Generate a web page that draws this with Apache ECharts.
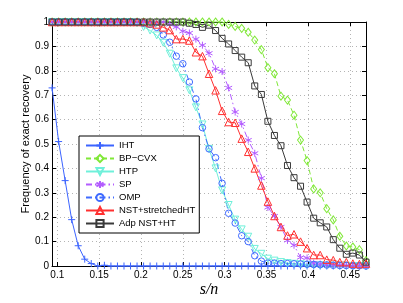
<!DOCTYPE html>
<html><head><meta charset="utf-8">
<script src="https://cdn.jsdelivr.net/npm/echarts@6/dist/echarts.min.js"></script>
<style>html,body{margin:0;padding:0;background:#fff}#c{width:403px;height:303px}</style>
</head><body><div id="c"></div>
<script>
// s/n values
const sn = [0.0938,0.1016,0.1094,0.1172,0.125,0.1328,0.1406,0.1484,0.1563,0.1641,0.1719,0.1797,0.1875,0.1953,0.2031,0.2109,0.2188,0.2266,0.2344,0.2422,0.25,0.2578,0.2656,0.2734,0.2813,0.2891,0.2969,0.3047,0.3125,0.3203,0.3281,0.3359,0.3438,0.3516,0.3594,0.3672,0.375,0.3828,0.3906,0.3984,0.4063,0.4141,0.4219,0.4297,0.4375,0.4453,0.4531,0.4609,0.4688];
const xTicks = [0.1,0.15,0.2,0.25,0.3,0.35,0.4,0.45];
const yTicks = [0,0.1,0.2,0.3,0.4,0.5,0.6,0.7,0.8,0.9,1];
const names = ['IHT','BP\u2212CVX','HTP','SP','OMP','NST+stretchedHT','Adp NST+HT'];

const iht = [0.73,0.51,0.35,0.19,0.083,0.028,0.01,0,0.003,0,0,0,0,0,0,0,0,0,0,0,0,0,0,0,0,0,0,0,0,0,0,0,0,0,0,0,0,0,0,0,0,0,0,0,0,0,0,0,0];
const bp = [1,1,1,1,1,1,1,1,1,1,1,1,1,1,1,1,1,1,1,1,1,1,1,1,1,1,1,0.99,0.982,0.974,0.958,0.926,0.887,0.813,0.788,0.696,0.68,0.618,0.516,0.432,0.316,0.3,0.235,0.189,0.122,0.082,0.078,0.067,0.022];
const htp = [1,1,1,1,1,1,1,1,1,1,1,1,1,0.995,0.98,0.965,0.945,0.915,0.87,0.81,0.77,0.72,0.65,0.58,0.48,0.4,0.31,0.25,0.19,0.15,0.12,0.07,0.05,0.03,0.022,0.016,0.012,0.009,0.007,0.005,0.004,0.003,0.002,0.002,0.001,0.001,0,0,0];
const sp = [1,1,1,1,1,1,1,1,1,1,1,1,1,1,1,1,1,1,0.99,0.98,0.962,0.955,0.93,0.905,0.872,0.808,0.797,0.73,0.631,0.582,0.516,0.462,0.36,0.24,0.205,0.16,0.105,0.085,0.035,0.033,0.012,0.008,0.006,0.004,0.003,0.002,0.001,0,0];
const omp = [1,1,1,1,1,1,1,1,1,1,1,1,1,1,0.995,0.99,0.978,0.947,0.917,0.86,0.829,0.754,0.685,0.567,0.48,0.444,0.339,0.216,0.176,0.124,0.1,0.042,0.02,0.012,0.012,0.01,0.01,0.009,0.008,0.007,0.006,0.005,0.004,0.003,0.002,0.002,0.001,0.001,0];
const nst = [1,1,1,1,1,1,1,1,1,1,1,1,1,1,1,0.995,0.99,0.978,0.967,0.93,0.93,0.924,0.876,0.86,0.788,0.72,0.636,0.59,0.587,0.522,0.468,0.4,0.33,0.264,0.205,0.16,0.125,0.13,0.1,0.073,0.045,0.045,0.026,0.024,0.016,0.016,0.01,0.008,0.01];
const adp = [1,1,1,1,1,1,1,1,1,1,1,1,1,1,1,1,1,1,1,1,1,0.995,0.99,0.978,0.987,0.965,0.933,0.91,0.883,0.856,0.833,0.738,0.703,0.593,0.535,0.493,0.412,0.362,0.327,0.262,0.196,0.177,0.16,0.108,0.073,0.048,0.053,0.045,0.016];

const seriesVals = [iht,bp,htp,sp,omp,nst,adp];
const colors = ['#3c64ff','#80e838','#6ff0da','#b35cff','#3f6bff','#ff3030','#3a3a3a'];
const lineTypes = ['solid',[5,3],'solid',[6,3,1.5,3],[6,3,1.5,3],'solid','solid'];
const symbols = ['path://M0,5H10M5,0V10','diamond','triangle','path://M5,0V10M0.7,2.5L9.3,7.5M0.7,7.5L9.3,2.5','circle','triangle','rect'];
const symSizes = [7,[6,8],7,7,6.5,7.5,6];
const symRot = [0,0,180,0,0,0,0];

const chart = echarts.init(document.getElementById('c'), null, {renderer:'canvas'});
const fmt = v => String(Math.round(v*100)/100);
const series = seriesVals.map((vals,k)=>({
  type:'line', name:names[k],
  data: vals.map((v,i)=>[sn[i],v]),
  symbol: symbols[k], symbolSize: symSizes[k], symbolRotate: symRot[k],
  showAllSymbol: true,
  color: colors[k],
  itemStyle:{color:'rgba(255,255,255,0)', borderColor:colors[k], borderWidth:1},
  lineStyle:{color:colors[k], width:1, type:lineTypes[k]},
  emphasis:{disabled:true},
  clip:false
}));
const axisBase = {
  axisLine:{show:true, onZero:false, lineStyle:{color:'#000', width:1}},
};
chart.setOption({
  animation:false,
  backgroundColor:'#fff',
  grid:{left:52, top:22, width:314, height:246, containLabel:false},
  textStyle:{fontFamily:'Liberation Sans, Arial, sans-serif'},
  legend:{
    orient:'vertical', left:79, top:136,
    data:names,
    itemWidth:28, itemHeight:9, itemGap:2,
    padding:[4,4,4,6],
    backgroundColor:'#fff', borderColor:'#000', borderWidth:1,
    textStyle:{fontSize:9.5, color:'#000', lineHeight:11, fontFamily:'Liberation Sans, Arial, sans-serif'},
    selectedMode:false
  },
  xAxis:[
    Object.assign({}, axisBase, {
      type:'value', min:0.0937, max:0.4688, position:'bottom',
      name:'s/n', nameLocation:'middle', nameGap:16, nameMoveOverlap:false,
      nameTextStyle:{fontFamily:'Liberation Serif, serif', fontStyle:'italic', fontSize:16, color:'#000'},
      axisTick:{show:true, inside:true, length:4, customValues:xTicks, lineStyle:{color:'#000'}},
      axisLabel:{show:true, customValues:xTicks, formatter:fmt, fontSize:10, color:'#000', margin:4},
      splitLine:{show:true, lineStyle:{color:'#b4b4b4', type:[1,3], width:1}}
    }),
    Object.assign({}, axisBase, {
      type:'value', min:0.0937, max:0.4688, position:'top',
      axisTick:{show:true, inside:true, length:4, customValues:xTicks, lineStyle:{color:'#000'}},
      axisLabel:{show:false}, splitLine:{show:false}
    })
  ],
  yAxis:[
    Object.assign({}, axisBase, {
      type:'value', min:0, max:1, interval:0.1, position:'left',
      name:'Frequency of exact recovery', nameLocation:'middle', nameGap:21, nameMoveOverlap:false,
      nameTextStyle:{fontSize:11, color:'#000'},
      axisTick:{show:true, inside:true, length:4, lineStyle:{color:'#000'}},
      axisLabel:{show:true, formatter:v=>String(Math.round(v*10)/10), fontSize:10, color:'#000', margin:3},
      splitLine:{show:true, lineStyle:{color:'#b4b4b4', type:[1,3], width:1}}
    }),
    Object.assign({}, axisBase, {
      type:'value', min:0, max:1, interval:0.1, position:'right',
      axisTick:{show:true, inside:true, length:4, lineStyle:{color:'#000'}},
      axisLabel:{show:false}, splitLine:{show:false}
    })
  ],
  series: series
});
</script></body></html>
